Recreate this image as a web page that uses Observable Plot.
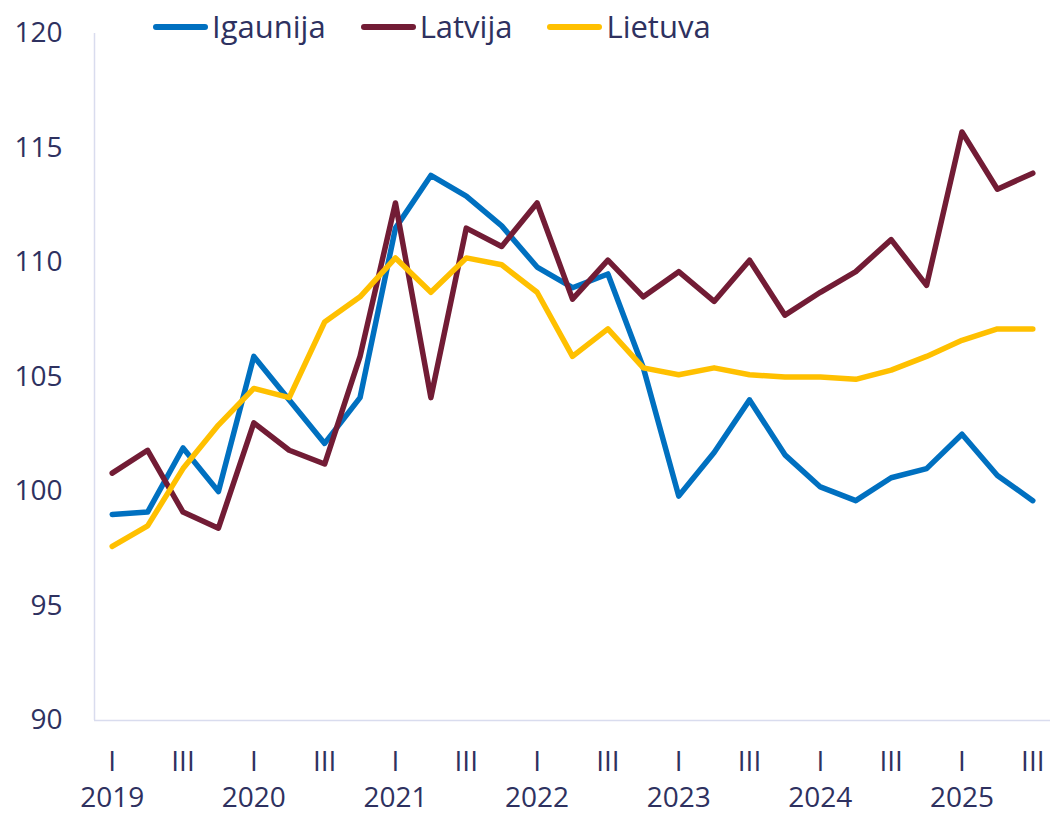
<!DOCTYPE html>
<html>
<head>
<meta charset="utf-8">
<script src="https://cdn.jsdelivr.net/npm/d3@7"></script>
<script src="https://cdn.jsdelivr.net/npm/@observablehq/plot@0.6"></script>
<style>
  html, body { margin: 0; padding: 0; background: #fff; }
  #wrap { position: relative; width: 1050px; height: 817px; font-family: "Open Sans", sans-serif; color: #2E3160; }
  #legend { position: absolute; left: 153px; top: 5px; display: flex; align-items: center; font-size: 31px; line-height: 42px; z-index: 2; }
  .item { display: flex; align-items: center; margin-right: 35px; }
  .sw { width: 55px; height: 5.5px; border-radius: 3px; margin-right: 4px; margin-top: 2px; }
</style>
</head>
<body>
<div id="wrap"><div id="legend"></div></div>
<script>
const years = [2019, 2020, 2021, 2022, 2023, 2024, 2025];
const quarterNames = ["I", "II", "III", "IV"];
const nPeriods = 27;

const seriesNames = ["Igaunija", "Latvija", "Lietuva"];
const seriesColors = ["#0070C0", "#721C35", "#FFC000"];

const igaunija = [99.0, 99.1, 101.9, 100.0, 105.9, 104.0, 102.1, 104.1, 111.5, 113.8, 112.9, 111.6, 109.8, 108.9, 109.5, 105.4, 99.8, 101.7, 104.0, 101.6, 100.2, 99.6, 100.6, 101.0, 102.5, 100.7, 99.6];
const latvija  = [100.8, 101.8, 99.1, 98.4, 103.0, 101.8, 101.2, 105.9, 112.6, 104.1, 111.5, 110.7, 112.6, 108.4, 110.1, 108.5, 109.6, 108.3, 110.1, 107.7, 108.7, 109.6, 111.0, 109.0, 115.7, 113.2, 113.9];
const lietuva  = [97.6, 98.5, 101.0, 102.9, 104.5, 104.1, 107.4, 108.5, 110.2, 108.7, 110.2, 109.9, 108.7, 105.9, 107.1, 105.4, 105.1, 105.4, 105.1, 105.0, 105.0, 104.9, 105.3, 105.9, 106.6, 107.1, 107.1];

const yTicks = [90, 95, 100, 105, 110, 115, 120];

// build table
const periods = d3.range(nPeriods).map(i => ({
  i, year: years[Math.floor(i / 4)], q: quarterNames[i % 4]
}));
const allValues = [igaunija, latvija, lietuva];
const rows = [];
seriesNames.forEach((name, s) => {
  allValues[s].forEach((v, i) => rows.push({ series: name, i, value: v }));
});

const xDomain = [-0.5, nPeriods - 0.5];
const yDomain = [yTicks[0], yTicks[yTicks.length - 1]];
const quarterTicks = periods.filter(p => p.q === "I" || p.q === "III").map(p => p.i);
const yearTicks = periods.filter(p => p.q === "I").map(p => p.i);

const textColor = "#2E3160";
const axisColor = "#D9DCEE";

const chart = Plot.plot({
  width: 1050,
  height: 817,
  marginLeft: 94,
  marginRight: 0,
  marginTop: 33,
  marginBottom: 97,
  style: { fontFamily: "Open Sans, sans-serif", fontSize: "28px", color: textColor, background: "transparent", overflow: "visible" },
  x: { domain: xDomain, axis: null },
  y: { domain: yDomain, axis: null },
  color: { domain: seriesNames, range: seriesColors },
  marks: [
    Plot.ruleX([xDomain[0]], { stroke: axisColor, strokeWidth: 1.5 }),
    Plot.ruleY([yDomain[0]], { stroke: axisColor, strokeWidth: 1.5 }),
    Plot.axisY({ ticks: yTicks, tickSize: 0, tickPadding: 32, fontSize: 28, fill: textColor, label: null }),
    Plot.axisX({ ticks: quarterTicks, tickSize: 0, tickPadding: 31, fontSize: 28, fill: textColor, label: null,
      tickFormat: i => periods[i].q }),
    Plot.axisX({ ticks: yearTicks, tickSize: 0, tickPadding: 67, fontSize: 28, fill: textColor, label: null,
      tickFormat: i => String(periods[i].year) }),
    Plot.line(rows, { x: "i", y: "value", z: "series", stroke: "series", strokeWidth: 5.5, strokeLinejoin: "round", strokeLinecap: "round" })
  ]
});

const wrap = document.getElementById("wrap");
wrap.appendChild(chart);

const legend = document.getElementById("legend");
seriesNames.forEach((name, s) => {
  const it = document.createElement("div");
  it.className = "item";
  const sw = document.createElement("span");
  sw.className = "sw";
  sw.style.background = seriesColors[s];
  const lb = document.createElement("span");
  lb.textContent = name;
  it.appendChild(sw);
  it.appendChild(lb);
  legend.appendChild(it);
});
</script>
</body>
</html>
